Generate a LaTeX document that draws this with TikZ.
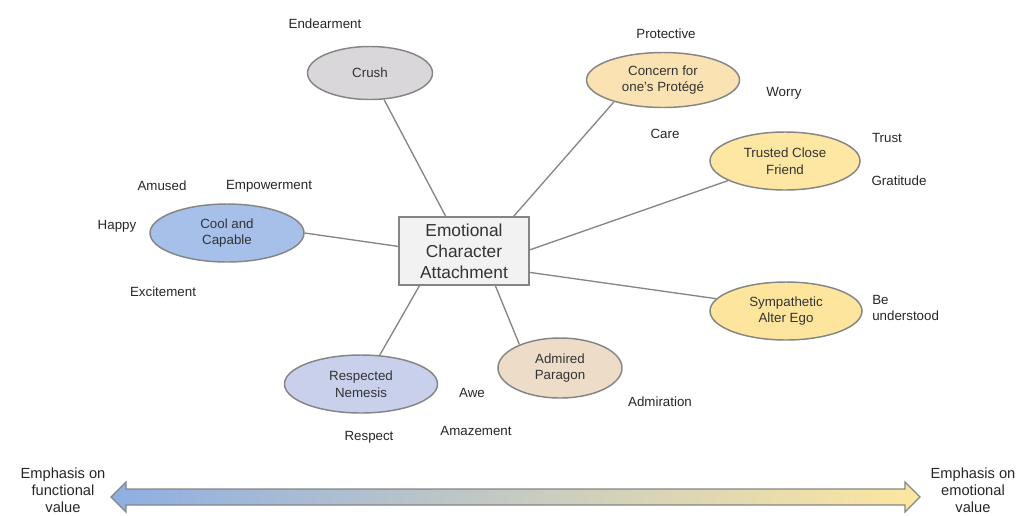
\documentclass[tikz,border=0pt]{standalone}
\usepackage{fontspec}
\setmainfont{Liberation Sans}
\usetikzlibrary{shapes.geometric}

\definecolor{edgegray}{HTML}{858585}
\definecolor{textgray}{HTML}{333333}
\definecolor{crushfill}{HTML}{DAD7DB}
\definecolor{concernfill}{HTML}{FBE2B2}
\definecolor{trustfill}{HTML}{FEE7A3}
\definecolor{coolfill}{HTML}{A6C0EA}
\definecolor{sympfill}{HTML}{FDE59D}
\definecolor{admiredfill}{HTML}{EDDDC8}
\definecolor{nemesisfill}{HTML}{C9D0EC}
\definecolor{boxfill}{HTML}{F2F2F2}
\definecolor{arrowblue}{HTML}{8EAEE3}
\definecolor{arrowmid}{HTML}{E4DCD2}
\definecolor{arrowyellow}{HTML}{FDE7A0}

\begin{document}
\begin{tikzpicture}[x=0.75pt, y=-0.75pt,
  bubble/.style n args={3}{ellipse, draw=edgegray, line width=1.1pt, fill=#1,
    inner sep=0pt, minimum width=#2*0.75pt, minimum height=#3*0.75pt,
    align=center, text=textgray, font=\fontsize{10}{12.5}\selectfont},
  feeling/.style={text=black!85, font=\fontsize{10}{12.5}\selectfont, inner sep=0pt},
  spoke/.style={draw=edgegray, line width=1pt},
  endnote/.style={align=center, text=black!85, font=\fontsize{11}{12.6}\selectfont, inner sep=0pt}]
  \useasboundingbox (0,0) rectangle (1024,515);

  % centre box
  \node[draw=edgegray, line width=1.3pt, fill=boxfill, minimum width=130*0.75pt,
    minimum height=68*0.75pt, align=center, text=textgray,
    font=\fontsize{13}{15.75}\selectfont] (attach) at (464,251)
    {Emotional\\Character\\Attachment};

  % the seven kinds of attachment
  \node[bubble={crushfill}{125}{53}] (crush) at (370,73) {Crush};
  \node[bubble={concernfill}{153}{55}] (concern) at (663,80) {Concern for\\one's Protégé};
  \node[bubble={trustfill}{150}{58}] (trusted) at (785,161) {Trusted Close\\Friend};
  \node[bubble={coolfill}{154}{58}] (cool) at (227,233) {Cool and\\Capable};
  \node[bubble={sympfill}{152}{58}] (sympathetic) at (786,311) {Sympathetic\\Alter Ego};
  \node[bubble={admiredfill}{124}{60}] (admired) at (560,368) {Admired\\Paragon};
  \node[bubble={nemesisfill}{153}{58}] (nemesis) at (361,384) {Respected\\Nemesis};

  % spokes
  \draw[spoke] (attach) -- (crush);
  \draw[spoke] (attach.35) -- (concern.204);
  \draw[spoke] (attach.1) -- (trusted.199);
  \draw[spoke] (attach.176) -- (cool.east);
  \draw[spoke] (attach.-18) -- (sympathetic.170);
  \draw[spoke] (attach.-48) -- (admired.150);
  \draw[spoke] (attach.-142) -- (nemesis.57);

  % feelings
  \node[feeling] (endearment) at (325,24) {Endearment};
  \node[feeling] (protective) at (666,34) {Protective};
  \node[feeling] (worry) at (784,93) {Worry};
  \node[feeling] (care) at (665,134) {Care};
  \node[feeling] (trust) at (887,138) {Trust};
  \node[feeling] (gratitude) at (899,181) {Gratitude};
  \node[feeling] (amused) at (162,186) {Amused};
  \node[feeling] (empower) at (269,186) {Empowerment};
  \node[feeling] (happy) at (117,226) {Happy};
  \node[feeling] (excite) at (163,292) {Excitement};
  \node[feeling, anchor=west, align=left] (understood) at (872,308) {Be\\understood};
  \node[feeling] (awe) at (472,393) {Awe};
  \node[feeling] (admiration) at (660,402) {Admiration};
  \node[feeling] (respect) at (369,437) {Respect};
  \node[feeling] (amazement) at (476,431) {Amazement};

  % scale along the bottom
  \shadedraw[draw=edgegray, line width=1pt, left color=arrowblue,
    middle color=arrowmid, right color=arrowyellow]
    (111,497) -- (126,482) -- (126,489) -- (905,489) -- (905,482) -- (920,497)
    -- (905,512) -- (905,505) -- (126,505) -- (126,512) -- cycle;
  \node[endnote] (functional) at (63,490) {Emphasis on\\functional\\value};
  \node[endnote] (emotional) at (973,490) {Emphasis on\\emotional\\value};
\end{tikzpicture}
\end{document}
